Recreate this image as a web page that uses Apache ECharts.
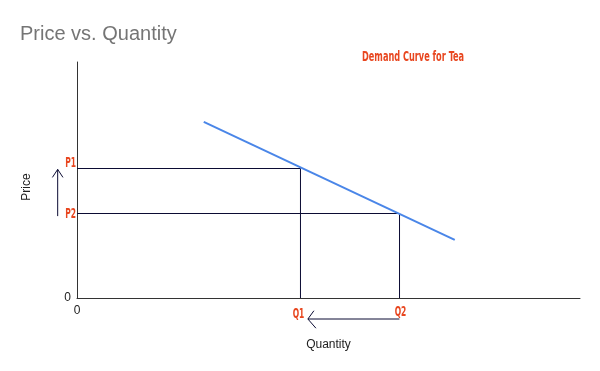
<!DOCTYPE html>
<html><head><meta charset="utf-8">
<script src="https://cdn.jsdelivr.net/npm/echarts@6/dist/echarts.min.js"></script>
<style>html,body{margin:0;padding:0;background:#fff}#c{width:600px;height:371px}</style>
</head><body><div id="c"></div>
<script>
// Data
const xRange = [0, 10];
const yRange = [0, 10];
const demandX = [2.52, 7.51];
const demandY = [7.46, 2.46];
const quantities = [4.443, 6.412];   // Q1, Q2
const prices = [5.487, 3.58];        // P1, P2
const priceLabels = ['P1', 'P2'];
const qtyLabels = ['Q1', 'Q2'];
const upArrowX = -0.384, upArrowY = [3.47, 5.45];
const leftArrowY = -0.89, leftArrowX = [6.41, 4.59];

const ink = '#0b0b33';
const accent = '#e8461f';
const accentFont = '"DejaVu Sans Condensed","Liberation Sans Narrow",sans-serif';
const plainFont = 'Arial, "Liberation Sans", sans-serif';

const series = [{
  type: 'line', data: demandX.map((x, i) => [x, demandY[i]]),
  symbol: 'none', lineStyle: { color: '#4a86e8', width: 2 }, z: 3
}];
for (let i = 0; i < quantities.length; i++) {
  series.push({
    type: 'line', data: [[0, prices[i]], [quantities[i], prices[i]], [quantities[i], 0]],
    symbol: 'none', lineStyle: { color: ink, width: 1 }, z: 2
  });
}

const chart = echarts.init(document.getElementById('c'));
chart.setOption({
  animation: false,
  title: [
    { text: 'Price vs. Quantity', left: 15, top: 19, textStyle: { fontFamily: plainFont, fontSize: 20, fontWeight: 'normal', color: '#757575' } }
  ],
  grid: { left: 77, right: 20, top: 62, bottom: 73 },
  xAxis: {
    type: 'value', min: xRange[0], max: xRange[1], interval: 10,
    name: 'Quantity', nameLocation: 'middle', nameGap: 41,
    nameTextStyle: { color: '#222', fontSize: 12, fontFamily: plainFont },
    axisLine: { show: true, lineStyle: { color: '#333', width: 1 } },
    axisTick: { show: false }, splitLine: { show: false },
    axisLabel: { formatter: v => v === 0 ? '0' : '', color: '#222', fontSize: 12, margin: 7, fontFamily: plainFont }
  },
  yAxis: {
    type: 'value', min: yRange[0], max: yRange[1], interval: 10,
    name: 'Price', nameLocation: 'middle', nameGap: 44, nameRotate: 90,
    nameTextStyle: { color: '#222', fontSize: 12, fontFamily: plainFont, padding: [0, 14, 0, 0] },
    axisLine: { show: true, lineStyle: { color: '#333', width: 1 } },
    axisTick: { show: false }, splitLine: { show: false },
    axisLabel: { formatter: v => v === 0 ? '0' : '', color: '#222', fontSize: 12, margin: 6, fontFamily: plainFont }
  },
  series
});

// annotations placed through the chart's own scales
const px = (x, y) => chart.convertToPixel({ gridIndex: 0 }, [x, y]);
const poly = pts => ({ type: 'polyline', silent: true, z: 10,
  shape: { points: pts.map(p => px(p[0], p[1])) }, style: { stroke: ink, lineWidth: 1, fill: null } });
const txt = (s, p, align, size, sx, dx, dy) => ({ type: 'text', silent: true, z: 10,
  x: p[0] + dx, y: p[1] + dy, scaleX: sx,
  style: { text: s, fill: accent, font: 'bold ' + size + 'px ' + accentFont, align: align, verticalAlign: 'middle' } });

const g = [];
g.push(poly([[upArrowX, upArrowY[0]], [upArrowX, upArrowY[1]]]));
g.push(poly([[upArrowX - 0.105, upArrowY[1] - 0.34], [upArrowX, upArrowY[1]], [upArrowX + 0.105, upArrowY[1] - 0.34]]));
g.push(poly([[leftArrowX[0], leftArrowY], [leftArrowX[1], leftArrowY]]));
g.push(poly([[leftArrowX[1] + 0.12, leftArrowY + 0.35], [leftArrowX[1], leftArrowY], [leftArrowX[1] + 0.16, leftArrowY - 0.39]]));
prices.forEach((p, i) => g.push(txt(priceLabels[i], px(0, p), 'right', 14, 0.6, -1, i === 0 ? -5 : 1)));
quantities.forEach((q, i) => g.push(txt(qtyLabels[i], px(q, 0), 'center', 14, 0.6, i === 0 ? -2 : 1, i === 0 ? 16 : 14)));
g.push({ type: 'text', silent: true, z: 10, x: 362, y: 57, scaleX: 0.65,
  style: { text: 'Demand Curve for Tea', fill: accent, font: 'bold 14px ' + accentFont, align: 'left', verticalAlign: 'middle' } });
chart.setOption({ graphic: g });
</script></body></html>
